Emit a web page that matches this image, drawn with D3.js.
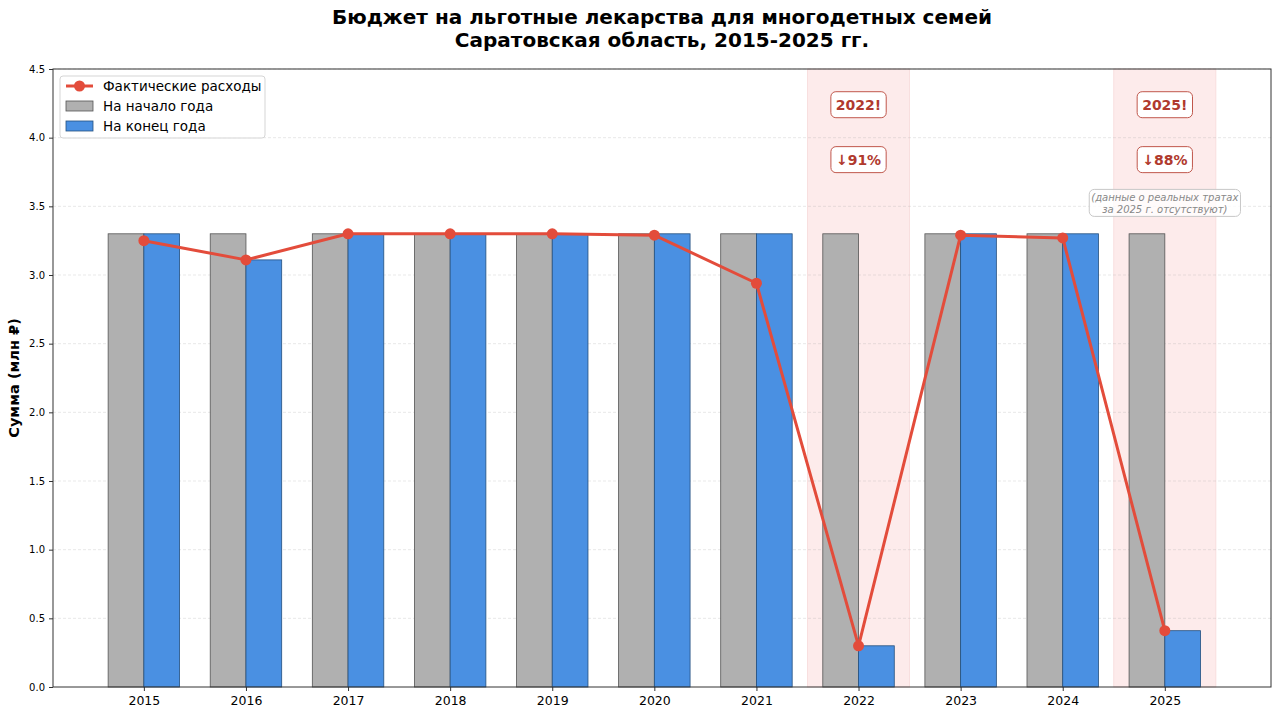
<!DOCTYPE html>
<html>
<head>
<meta charset="utf-8">
<script src="https://cdn.jsdelivr.net/npm/d3@7"></script>
<style>
  body { margin: 0; background: #fff; }
  svg { font-family: 'DejaVu Sans', sans-serif; }
</style>
</head>
<body>
<svg id="chart" width="1280" height="716"></svg>
<script>
var years        = [ '2015', '2016', '2017', '2018', '2019', '2020', '2021', '2022', '2023', '2024', '2025' ],
    startOfYear  = [ 3.3, 3.3, 3.3, 3.3, 3.3, 3.3, 3.3, 3.3, 3.3, 3.3, 3.3 ],
    endOfYear    = [ 3.3, 3.11, 3.3, 3.3, 3.3, 3.3, 3.3, 0.3, 3.3, 3.3, 0.41 ],
    actualSpent  = [ 3.25, 3.11, 3.3, 3.3, 3.3, 3.29, 2.94, 0.3, 3.29, 3.27, 0.41 ],
    yTicks       = [ 0, 0.5, 1, 1.5, 2, 2.5, 3, 3.5, 4, 4.5 ],
    crisisYears  = [ '2022', '2025' ],
    crisisLabels = [ '↓91%', '↓88%' ];

var margin = { top: 69, right: 9, bottom: 29, left: 53 },
    width  = 1280 - margin.left - margin.right,
    height = 716 - margin.top - margin.bottom,
    barWidth = 0.35,

    svg = d3.select( '#chart' ),
    g   = svg.append( 'g' )
             .attr( 'transform', 'translate(' + margin.left + ',' + margin.top + ')' ),

    x = d3.scaleLinear().domain( [ -0.89, 11.04 ] ).range( [ 0, width ] ),
    y = d3.scaleLinear().domain( [ 0, 4.5 ] ).range( [ height, 0 ] ),

    red = '#e34c3b',
    darkRed = '#b03a2e';

// shaded crisis years
g.selectAll( '.span' )
  .data( crisisYears )
  .enter().append( 'rect' )
  .attr( 'x', function( d ) { return x( years.indexOf( d ) - 0.5 ); } )
  .attr( 'width', function() { return x( 1 ) - x( 0 ); } )
  .attr( 'y', 0 )
  .attr( 'height', height )
  .attr( 'fill', '#fdebeb' )
  .attr( 'stroke', '#f7dada' )
  .attr( 'stroke-width', 0.8 );

// grid
g.append( 'g' )
  .selectAll( 'line' )
  .data( yTicks.slice( 1 ) )
  .enter().append( 'line' )
  .attr( 'x1', 0 )
  .attr( 'x2', width )
  .attr( 'y1', function( d ) { return y( d ); } )
  .attr( 'y2', function( d ) { return y( d ); } )
  .attr( 'stroke', '#b0b0b0' )
  .attr( 'stroke-opacity', 0.35 )
  .attr( 'stroke-width', 0.8 )
  .attr( 'stroke-dasharray', '3,2' );

// bars
g.selectAll( '.barStart' )
  .data( startOfYear )
  .enter().append( 'rect' )
  .attr( 'class', 'barStart' )
  .attr( 'x', function( d, i ) { return x( i - barWidth ); } )
  .attr( 'width', x( barWidth ) - x( 0 ) )
  .attr( 'y', function( d ) { return y( d ); } )
  .attr( 'height', function( d ) { return height - y( d ); } )
  .attr( 'fill', '#b0b0b0' )
  .attr( 'stroke', '#555' )
  .attr( 'stroke-width', 0.8 );

g.selectAll( '.barEnd' )
  .data( endOfYear )
  .enter().append( 'rect' )
  .attr( 'class', 'barEnd' )
  .attr( 'x', function( d, i ) { return x( i ); } )
  .attr( 'width', x( barWidth ) - x( 0 ) )
  .attr( 'y', function( d ) { return y( d ); } )
  .attr( 'height', function( d ) { return height - y( d ); } )
  .attr( 'fill', '#4a90e2' )
  .attr( 'stroke', '#24507f' )
  .attr( 'stroke-width', 0.8 );

// actual spending line
g.append( 'path' )
  .datum( actualSpent )
  .attr( 'fill', 'none' )
  .attr( 'stroke', red )
  .attr( 'stroke-width', 3 )
  .attr( 'stroke-linejoin', 'round' )
  .attr( 'd', d3.line()
                .x( function( d, i ) { return x( i ); } )
                .y( function( d ) { return y( d ); } ) );

g.selectAll( '.dot' )
  .data( actualSpent )
  .enter().append( 'circle' )
  .attr( 'cx', function( d, i ) { return x( i ); } )
  .attr( 'cy', function( d ) { return y( d ); } )
  .attr( 'r', 5.5 )
  .attr( 'fill', red );

// annotation boxes
function labelBox( cx, cy, text, opts ) {
  var grp = g.append( 'g' ),
      t = grp.append( 'text' )
             .attr( 'x', cx )
             .attr( 'y', cy )
             .attr( 'text-anchor', 'middle' )
             .attr( 'dominant-baseline', 'central' )
             .attr( 'font-size', opts.size )
             .attr( 'font-weight', opts.weight || 'normal' )
             .attr( 'font-style', opts.style || 'normal' )
             .attr( 'fill', opts.color ),
      lines = text.split( '\n' ),
      bb;

  lines.forEach( function( line, i ) {
    t.append( 'tspan' )
      .attr( 'x', cx )
      .attr( 'dy', i === 0 ? ( -( lines.length - 1 ) * opts.lh / 2 ) : opts.lh )
      .text( line );
  } );

  bb = t.node().getBBox();
  grp.insert( 'rect', 'text' )
    .attr( 'x', bb.x - opts.pad )
    .attr( 'y', bb.y - opts.pad )
    .attr( 'width', bb.width + opts.pad * 2 )
    .attr( 'height', bb.height + opts.pad * 2 )
    .attr( 'rx', 5 )
    .attr( 'fill', '#fff' )
    .attr( 'fill-opacity', opts.fillOpacity || 1 )
    .attr( 'stroke', opts.border )
    .attr( 'stroke-width', 1 );
}

crisisYears.forEach( function( yr, k ) {
  var cx = x( years.indexOf( yr ) );

  labelBox( cx, y( 4.24 ), yr + '!', { size: 14, weight: 'bold', color: darkRed, border: '#c0574c', pad: 5, lh: 16 } );
  labelBox( cx, y( 3.84 ), crisisLabels[ k ], { size: 14, weight: 'bold', color: darkRed, border: '#c0574c', pad: 5, lh: 16 } );
} );

labelBox( x( years.indexOf( '2025' ) ), y( 3.525 ),
  '(данные о реальных тратах\nза 2025 г. отсутствуют)',
  { size: 10, style: 'italic', color: '#888', border: '#c8c8c8', pad: 2, lh: 12, fillOpacity: 0.8 } );

// axes
var xAxis = g.append( 'g' )
  .attr( 'transform', 'translate(0,' + height + ')' )
  .call( d3.axisBottom( x )
           .tickValues( d3.range( years.length ) )
           .tickFormat( function( i ) { return years[ i ]; } )
           .tickSize( 4 )
           .tickPadding( 5 ) );

var yAxis = g.append( 'g' )
  .call( d3.axisLeft( y )
           .tickValues( yTicks )
           .tickFormat( d3.format( '.1f' ) )
           .tickSize( 4 )
           .tickPadding( 4 ) );

[ xAxis, yAxis ].forEach( function( ax ) {
  ax.select( '.domain' ).remove();
  ax.selectAll( 'text' )
    .attr( 'font-family', "'DejaVu Sans', sans-serif" )
    .attr( 'fill', '#000' );
  ax.selectAll( 'line' ).attr( 'stroke', '#333' );
} );
xAxis.selectAll( 'text' ).attr( 'font-size', 12.5 );
yAxis.selectAll( 'text' ).attr( 'font-size', 10 );

// frame
g.append( 'rect' )
  .attr( 'width', width )
  .attr( 'height', height )
  .attr( 'fill', 'none' )
  .attr( 'stroke', '#333' )
  .attr( 'stroke-width', 1 );

// y label
svg.append( 'text' )
  .attr( 'transform', 'translate(19,' + ( margin.top + height / 2 ) + ') rotate(-90)' )
  .attr( 'text-anchor', 'middle' )
  .attr( 'font-size', 14.5 )
  .attr( 'font-weight', 'bold' )
  .text( 'Сумма (млн ₽)' );

// title
svg.append( 'text' )
  .attr( 'x', margin.left + width / 2 )
  .attr( 'y', 24 )
  .attr( 'text-anchor', 'middle' )
  .attr( 'font-size', 20 )
  .attr( 'font-weight', 'bold' )
  .text( 'Бюджет на льготные лекарства для многодетных семей' );

svg.append( 'text' )
  .attr( 'x', margin.left + width / 2 )
  .attr( 'y', 47 )
  .attr( 'text-anchor', 'middle' )
  .attr( 'font-size', 20 )
  .attr( 'font-weight', 'bold' )
  .text( 'Саратовская область, 2015-2025 гг.' );

// legend
var legend = g.append( 'g' ).attr( 'transform', 'translate(7,7)' ),
    items = [
      { name: 'Фактические расходы', type: 'line', color: red },
      { name: 'На начало года', type: 'rect', color: '#b0b0b0', edge: '#555' },
      { name: 'На конец года', type: 'rect', color: '#4a90e2', edge: '#24507f' }
    ];

legend.append( 'rect' )
  .attr( 'width', 205 )
  .attr( 'height', 62 )
  .attr( 'rx', 3 )
  .attr( 'fill', '#fff' )
  .attr( 'fill-opacity', 0.8 )
  .attr( 'stroke', '#d5d5d5' );

items.forEach( function( item, i ) {
  var cy = 10 + i * 20;

  if ( item.type === 'line' ) {
    legend.append( 'line' )
      .attr( 'x1', 6 ).attr( 'x2', 33 )
      .attr( 'y1', cy ).attr( 'y2', cy )
      .attr( 'stroke', item.color )
      .attr( 'stroke-width', 3 );
    legend.append( 'circle' )
      .attr( 'cx', 19.5 ).attr( 'cy', cy )
      .attr( 'r', 5.5 )
      .attr( 'fill', item.color );
  } else {
    legend.append( 'rect' )
      .attr( 'x', 6 ).attr( 'y', cy - 5 )
      .attr( 'width', 27 ).attr( 'height', 10 )
      .attr( 'fill', item.color )
      .attr( 'stroke', item.edge )
      .attr( 'stroke-width', 0.8 );
  }

  legend.append( 'text' )
    .attr( 'x', 43 )
    .attr( 'y', cy )
    .attr( 'dominant-baseline', 'central' )
    .attr( 'font-size', 13.5 )
    .text( item.name );
} );
</script>
</body>
</html>
